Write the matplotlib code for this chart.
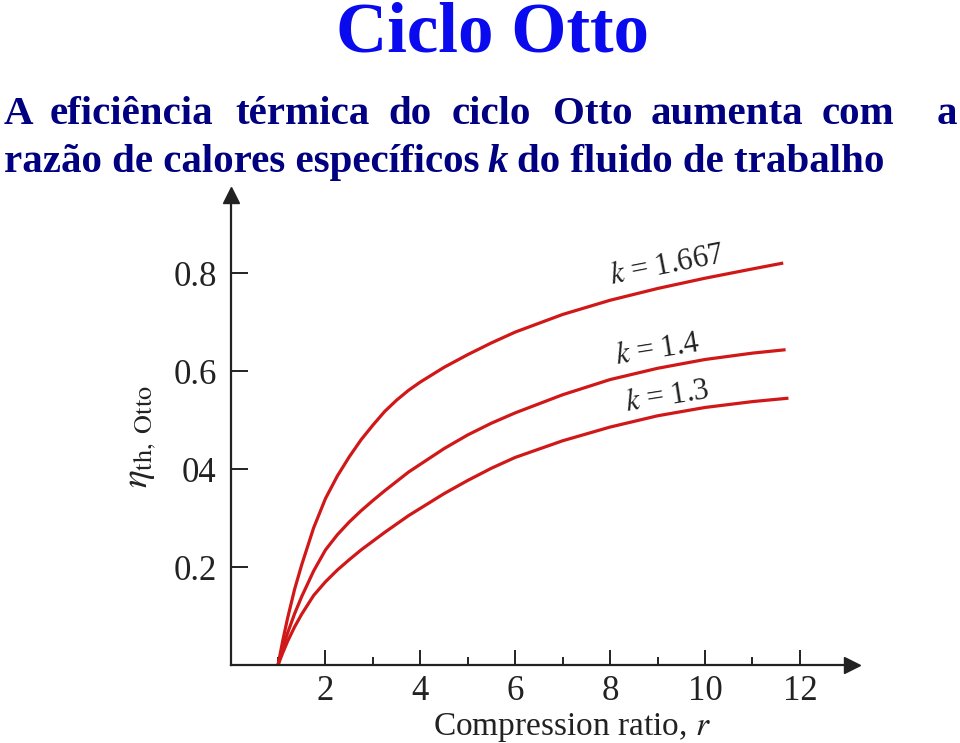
import matplotlib
matplotlib.use("Agg")
import matplotlib.pyplot as plt

plt.rcParams['mathtext.fontset'] = 'stix'
SERIF = ['Liberation Serif', 'DejaVu Serif']

# ---- data ----
r_common = [1, 1.1, 1.2, 1.35, 1.5, 1.75, 2, 2.25, 2.5, 2.75, 3, 3.25, 3.5, 3.75,
            4, 4.5, 5, 5.5, 6, 7, 8, 9, 10, 11]
r_k1667 = r_common + [11.65]
eta_k1667 = [0, 0.05, 0.095, 0.155, 0.205, 0.28, 0.34, 0.386, 0.425, 0.46, 0.49,
             0.518, 0.541, 0.561, 0.578, 0.608, 0.634, 0.658, 0.68, 0.716, 0.745,
             0.769, 0.79, 0.809, 0.821]
r_k14 = r_common + [11.7]
eta_k14 = [0, 0.035, 0.065, 0.105, 0.14, 0.192, 0.235, 0.266, 0.292, 0.315, 0.336,
           0.356, 0.375, 0.394, 0.41, 0.442, 0.47, 0.494, 0.515, 0.552, 0.583,
           0.606, 0.624, 0.637, 0.644]
r_k13 = r_common + [11.76]
eta_k13 = [0, 0.025, 0.048, 0.078, 0.104, 0.142, 0.17, 0.194, 0.215, 0.235, 0.253,
           0.271, 0.288, 0.305, 0.32, 0.35, 0.377, 0.402, 0.424, 0.458, 0.486,
           0.509, 0.526, 0.538, 0.545]

curve_labels = ['1.667', '1.4', '1.3']

x_major = [2, 4, 6, 8, 10, 12]
x_minor = [1, 3, 5, 7, 9, 11]
y_ticks = [0.2, 0.4, 0.6, 0.8]
y_ticklabels = ['0.2', '04', '0.6', '0.8']

title = 'Ciclo Otto'
line1_words = ['A', 'eficiência', 'térmica', 'do', 'ciclo', 'Otto', 'aumenta', 'com', 'a']
line1_x = [4, 50, 235, 388, 452, 553, 651, 822, 937]
xlabel = 'Compression ratio, '

W, H = 960, 743
fig = plt.figure(figsize=(W / 100, H / 100), dpi=100)

# axes placement (pixel based)
x0, x1 = 230.6, 852
y0, y1 = 665, 195
ax = fig.add_axes([x0 / W, 1 - y0 / H, (x1 - x0) / W, (y0 - y1) / H])
ax.set_xlim(0, 13.1)
ax.set_ylim(0, 0.96)

red = '#D01818'
for rr, ee in [(r_k1667, eta_k1667), (r_k14, eta_k14), (r_k13, eta_k13)]:
    ax.plot(rr, ee, color=red, lw=2.3, solid_capstyle='butt', solid_joinstyle='round',
            clip_on=False)

axcol = '#222222'
for s in ['top', 'right']:
    ax.spines[s].set_visible(False)
for s in ['left', 'bottom']:
    ax.spines[s].set_color(axcol)
    ax.spines[s].set_linewidth(1.6)

ax.plot(1, 0, marker='>', color=axcol, ms=11, transform=ax.transAxes, clip_on=False)
ax.plot(0, 1, marker='^', color=axcol, ms=11, transform=ax.transAxes, clip_on=False)

ax.set_xticks(x_major)
ax.set_xticks(x_minor, minor=True)
ax.set_yticks(y_ticks)
ax.set_yticklabels(y_ticklabels)
ax.tick_params(axis='x', which='major', direction='in', length=11, width=1.4,
               color=axcol, pad=7, labelsize=25, labelcolor=axcol)
ax.tick_params(axis='x', which='minor', direction='in', length=6, width=1.4, color=axcol)
ax.tick_params(axis='y', which='major', direction='in', length=12, width=1.4,
               color=axcol, pad=10, labelsize=25, labelcolor=axcol)
for lab in ax.get_xticklabels() + ax.get_yticklabels():
    lab.set_family(SERIF)

# curve labels
ax.text(9.2, 0.815, r'$k$ = ' + curve_labels[0], rotation=11, ha='center', va='center',
        fontsize=22, family=SERIF, color=axcol, rotation_mode='anchor')
ax.text(9.0, 0.643, r'$k$ = ' + curve_labels[1], rotation=9, ha='center', va='center',
        fontsize=22, family=SERIF, color=axcol, rotation_mode='anchor')
ax.text(9.2, 0.547, r'$k$ = ' + curve_labels[2], rotation=9, ha='center', va='center',
        fontsize=22, family=SERIF, color=axcol, rotation_mode='anchor')

# axis labels
fig.text(572 / W, 1 - 735 / H, xlabel + r'$r$', ha='center', va='baseline',
         fontsize=24, family=SERIF, color=axcol)
fig.text(140 / W, 1 - 437 / H, r'$\eta_{\rm th,\ Otto}$', rotation=90, ha='center',
         va='center', fontsize=27, color=axcol)

# title and subtitle
fig.text(493 / W, 1 - 52 / H, title, ha='center', va='baseline', fontsize=51,
         fontweight='bold', family=SERIF, color='#0A0AEE')
navy = '#000080'
for w, xx in zip(line1_words, line1_x):
    fig.text(xx / W, 1 - 124 / H, w, ha='left', va='baseline', fontsize=29.5,
             fontweight='bold', family=SERIF, color=navy)
fig.text(4 / W, 1 - 172 / H, 'razão de calores específicos', ha='left', va='baseline',
         fontsize=29.5, fontweight='bold', family=SERIF, color=navy)
fig.text(487 / W, 1 - 172 / H, 'k', ha='left', va='baseline', fontsize=29.5,
         fontweight='bold', fontstyle='italic', family=SERIF, color=navy)
fig.text(517 / W, 1 - 172 / H, 'do fluido de trabalho', ha='left', va='baseline',
         fontsize=29.5, fontweight='bold', family=SERIF, color=navy)

fig.savefig('out.png', dpi=100)
